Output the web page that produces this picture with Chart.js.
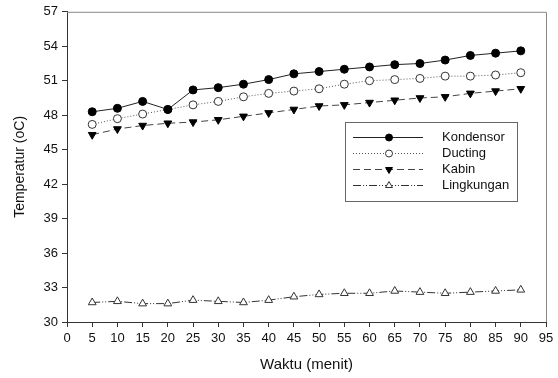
<!DOCTYPE html>
<html>
<head>
<meta charset="utf-8">
<script src="https://cdn.jsdelivr.net/npm/chart.js@4/dist/chart.umd.min.js"></script>
<style>
  html, body { margin: 0; padding: 0; background: #fff; }
  #wrap { width: 558px; height: 378px; }
</style>
</head>
<body>
<div id="wrap"><canvas id="myChart" width="558" height="378"></canvas></div>
<script>
// data
const minutes = [5, 10, 15, 20, 25, 30, 35, 40, 45, 50, 55, 60, 65, 70, 75, 80, 85, 90];
const kondensor = [48.3, 48.6, 49.2, 48.5, 50.2, 50.4, 50.7, 51.1, 51.6, 51.8, 52.0, 52.2, 52.4, 52.5, 52.8, 53.2, 53.4, 53.6];
const ducting = [47.2, 47.7, 48.1, 48.5, 48.9, 49.2, 49.6, 49.9, 50.1, 50.3, 50.7, 51.0, 51.1, 51.2, 51.4, 51.4, 51.5, 51.7];
const kabin = [46.3, 46.8, 47.1, 47.3, 47.4, 47.6, 47.9, 48.2, 48.5, 48.8, 48.9, 49.1, 49.3, 49.5, 49.6, 49.9, 50.1, 50.3];
const lingkungan = [31.7, 31.8, 31.6, 31.6, 31.9, 31.8, 31.7, 31.9, 32.2, 32.4, 32.5, 32.5, 32.7, 32.6, 32.5, 32.6, 32.7, 32.8];
const seriesNames = ["Kondensor", "Ducting", "Kabin", "Lingkungan"];

const font = "'Liberation Sans', Arial, sans-serif";

function pts(vals) {
  return minutes.map((m, i) => ({ x: m, y: vals[i] }));
}

const datasets = [
  { label: seriesNames[0], data: pts(kondensor), borderColor: "#222", borderWidth: 1,
    pointStyle: "circle", pointRadius: 4, pointBackgroundColor: "#000", pointBorderColor: "#000", pointBorderWidth: 1, pointRotation: 0 },
  { label: seriesNames[1], data: pts(ducting), borderColor: "#555", borderWidth: 1, borderDash: [1, 2],
    pointStyle: "circle", pointRadius: 4, pointBackgroundColor: "#fff", pointBorderColor: "#333", pointBorderWidth: 1, pointRotation: 0 },
  { label: seriesNames[2], data: pts(kabin), borderColor: "#444", borderWidth: 1, borderDash: [7, 4],
    pointStyle: "triangle", pointRadius: 4.5, pointBackgroundColor: "#000", pointBorderColor: "#000", pointBorderWidth: 1, pointRotation: 180 },
  { label: seriesNames[3], data: pts(lingkungan), borderColor: "#333", borderWidth: 1, borderDash: [8, 2, 1, 2, 1, 2],
    pointStyle: "triangle", pointRadius: 4.5, pointBackgroundColor: "#fff", pointBorderColor: "#333", pointBorderWidth: 1, pointRotation: 0 }
];

// top/right frame and legend box
const framePlugin = {
  id: "framePlugin",
  afterDraw(chart) {
    const ctx = chart.ctx;
    const a = chart.chartArea;
    ctx.save();
    ctx.strokeStyle = "#888";
    ctx.lineWidth = 1;
    ctx.beginPath();
    ctx.moveTo(a.left, a.top + 0.5);
    ctx.lineTo(a.right + 0.5, a.top + 0.5);
    ctx.lineTo(a.right + 0.5, a.bottom);
    ctx.stroke();

    // legend
    const bx = 345, by = 122, bw = 172, bh = 79;
    ctx.fillStyle = "#fff";
    ctx.fillRect(bx, by, bw, bh);
    ctx.strokeStyle = "#666";
    ctx.strokeRect(bx + 0.5, by + 0.5, bw, bh);
    const rows = [137, 153, 169, 185];
    datasets.forEach((ds, i) => {
      const y = rows[i] + 0.5;
      ctx.strokeStyle = ds.borderColor;
      ctx.setLineDash(ds.borderDash || []);
      ctx.beginPath();
      ctx.moveTo(353, y);
      ctx.lineTo(423, y);
      ctx.stroke();
      ctx.setLineDash([]);
      ctx.fillStyle = ds.pointBackgroundColor;
      ctx.strokeStyle = ds.pointBorderColor;
      Chart.helpers.drawPoint(ctx, {
        pointStyle: ds.pointStyle, radius: ds.pointRadius - 0.5, rotation: ds.pointRotation, borderWidth: 1
      }, 389, y);
      ctx.fillStyle = "#111";
      ctx.font = "13px " + font;
      ctx.textBaseline = "middle";
      ctx.textAlign = "left";
      ctx.fillText(ds.label, 442, rows[i]);
    });
    ctx.restore();
  }
};

new Chart(document.getElementById("myChart"), {
  type: "line",
  data: { datasets: datasets },
  plugins: [framePlugin],
  options: {
    responsive: false,
    animation: false,
    layout: { padding: { left: 0, top: 10, right: 12, bottom: 0 } },
    plugins: { legend: { display: false }, tooltip: { enabled: false } },
    scales: {
      x: {
        type: "linear", min: 0, max: 95,
        ticks: { stepSize: 5, color: "#111", font: { family: font, size: 13 }, padding: 4, maxRotation: 0 },
        grid: { drawOnChartArea: false, drawTicks: true, tickLength: 5, color: "#333" },
        border: { color: "#333", width: 1 },
        title: { display: true, text: "Waktu (menit)", color: "#111", font: { family: font, size: 15 }, padding: { top: 4 } },
        afterFit(s) { s.height = 56; }
      },
      y: {
        min: 30, max: 57,
        ticks: { stepSize: 3, color: "#111", font: { family: font, size: 13 }, padding: 4 },
        grid: { drawOnChartArea: false, drawTicks: true, tickLength: 5, color: "#333" },
        border: { color: "#333", width: 1 },
        title: { display: true, text: "Temperatur (oC)", color: "#111", font: { family: font, size: 14 }, padding: { top: 12, bottom: 4 } },
        afterFit(s) { s.width = 67; }
      }
    }
  }
});
</script>
</body>
</html>
